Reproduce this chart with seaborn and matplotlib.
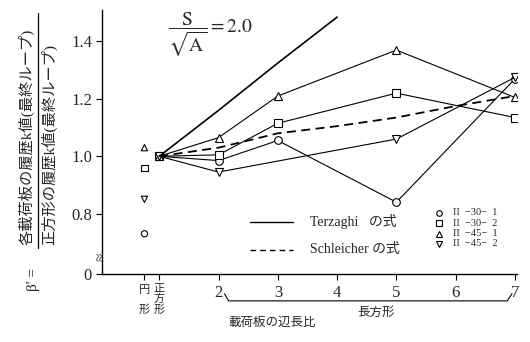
import pandas as pd
import seaborn as sns
import matplotlib.pyplot as plt
import matplotlib.transforms as mtransforms
from matplotlib.lines import Line2D

# 試験ごとの β' (正方形 = 1 の位置が基準)
tests = ['II  −30−  1', 'II  −30−  2', 'II  −45−  1', 'II  −45−  2']
test_markers = ['o', 's', '^', 'v']

x_301 = [1, 2, 3, 5, 7]
y_301 = [1.0, 0.985, 1.055, 0.84, 1.27]
x_302 = [1, 2, 3, 5, 7]
y_302 = [1.0, 1.005, 1.115, 1.22, 1.135]
x_451 = [1, 2, 3, 5, 7]
y_451 = [1.0, 1.065, 1.21, 1.37, 1.205]
x_452 = [1, 2, 5, 7]
y_452 = [1.0, 0.945, 1.06, 1.275]

# 円形板 (x = 0.75 に描く)
circle_x = 0.75
circle_y = [0.73, 0.96, 1.03, 0.85]

# 理論式
terzaghi_x = [1, 2, 3, 4]
terzaghi_y = [1.0, 1.16, 1.325, 1.485]
schleicher_x = [1, 2, 3, 4, 5, 6, 7]
schleicher_y = [1.0, 1.03, 1.08, 1.105, 1.135, 1.175, 1.21]

xticks = [0.75, 1, 2, 3, 4, 5, 6, 7]
xticklabels = ['円\n\n形', '正\n方\n形', '2', '3', '4', '5', '6', '7']
yticks = [0.59, 0.8, 1.0, 1.2, 1.4]
yticklabels = ['0', '0.8', '1.0', '1.2', '1.4']

df = pd.concat([pd.DataFrame({'ratio': x, 'beta': y, 'test': t})
                for x, y, t in zip([x_301, x_302, x_451, x_452],
                                   [y_301, y_302, y_451, y_452], tests)])

sns.set_style('ticks')
plt.rcParams['font.family'] = ['Liberation Serif', 'Noto Sans CJK JP']
plt.rcParams['mathtext.fontset'] = 'stix'

fig, ax = plt.subplots(figsize=(5.3, 3.42), dpi=100)
fig.subplots_adjust(left=0.192, right=0.975, bottom=0.199, top=0.971)

sns.lineplot(data=df, x='ratio', y='beta', hue='test', style='test',
             markers=dict(zip(tests, test_markers)), dashes=False,
             palette=['black'] * 4, lw=0.8, markersize=5.5, mfc='white',
             mec='black', mew=0.8, legend=False, ax=ax)
sns.scatterplot(x=[circle_x] * 4, y=circle_y, style=tests,
                markers=dict(zip(tests, test_markers)), color='white',
                edgecolor='black', s=20, linewidth=0.8, legend=False, ax=ax)
sns.lineplot(x=terzaghi_x, y=terzaghi_y, color='black', lw=1.2, ax=ax)
sns.lineplot(x=schleicher_x, y=schleicher_y, color='black', lw=1.3,
             linestyle=(0, (5, 3)), ax=ax)

ax.set_xlim(0.03, 7.03)
ax.set_ylim(0.59, 1.51)
ax.set_xticks(xticks)
ax.set_xticklabels(xticklabels, fontsize=12)
for lbl in ax.get_xticklabels()[:2]:
    lbl.set_fontsize(8)
    lbl.set_linespacing(1.0)
ax.set_yticks(yticks)
ax.set_yticklabels(yticklabels, fontsize=12)
ax.tick_params(direction='out', length=4, width=0.8, color='black', pad=3)
ax.tick_params(axis='x', pad=4)
ax.set_xlabel('')
ax.set_ylabel('')
sns.despine(ax=ax)
for s in ['left', 'bottom']:
    ax.spines[s].set_color('black')
    ax.spines[s].set_linewidth(1.0)

# 軸の省略記号
ax.text(0, 0.064, '≈', transform=ax.transAxes, ha='center', va='center',
        fontsize=11, rotation=90)

# 長方形の括弧
trans = mtransforms.blended_transform_factory(ax.transData, ax.transAxes)
ax.plot([2.1, 2.17, 6.87, 6.95], [-0.075, -0.102, -0.102, -0.075],
        color='black', lw=0.8, transform=trans, clip_on=False)
ax.text(4.66, -0.148, '長方形', transform=trans, ha='center', va='center',
        fontsize=9)
ax.text(2.91, -0.186, '載荷板の辺長比', transform=trans, ha='center',
        va='center', fontsize=9)

# S/√A
ax.text(0.159, 0.905, r'$\dfrac{\mathrm{S}}{\sqrt{\mathrm{A}}}=2.0$',
        transform=ax.transAxes, ha='left', va='center', fontsize=14)

# 凡例 (理論式)
ax.plot([0.357, 0.46], [0.197, 0.197], color='black', lw=1.0,
        transform=ax.transAxes)
ax.plot([0.357, 0.46], [0.091, 0.091], color='black', lw=1.0,
        linestyle=(0, (4, 3)), transform=ax.transAxes)
ax.text(0.501, 0.197, 'Terzaghi   の式', transform=ax.transAxes,
        ha='left', va='center', fontsize=10)
ax.text(0.501, 0.091, 'Schleicher の式', transform=ax.transAxes,
        ha='left', va='center', fontsize=10)

# 凡例 (試験)
for i, (t, m) in enumerate(zip(tests, test_markers)):
    yy = 0.231 - i * 0.039
    ax.plot([0.812], [yy], marker=m, ms=4, mfc='white', mec='black',
            mew=0.8, transform=ax.transAxes, clip_on=False)
    ax.text(0.846, yy, t, transform=ax.transAxes, ha='left', va='center',
            fontsize=7.5)

# 縦軸ラベル (分数)
fig.text(26 / 530, 1 - 245 / 342, '各載荷板の履歴k値(最終ループ)',
         rotation=90, ha='center', va='bottom', fontsize=11)
fig.text(49 / 530, 1 - 245 / 342, '正方形の履歴k値(最終ループ)',
         rotation=90, ha='center', va='bottom', fontsize=11)
fig.add_artist(Line2D([38 / 530, 38 / 530], [1 - 248 / 342, 1 - 13 / 342],
                      color='black', lw=0.9, transform=fig.transFigure))
fig.text(34 / 530, 1 - 268 / 342, "β' =", rotation=90, ha='center',
         va='top', fontsize=11)

fig.savefig('out.png', dpi=100)
